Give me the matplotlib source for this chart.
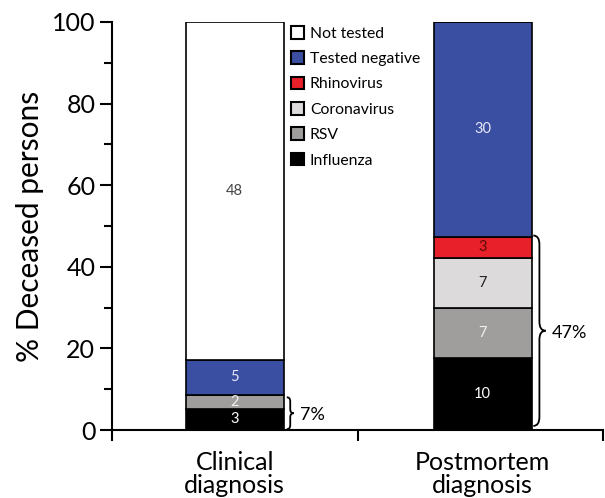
import numpy as np
import matplotlib
matplotlib.use("Agg")
import matplotlib.pyplot as plt
from matplotlib.patches import Patch, PathPatch
from matplotlib.path import Path

plt.rcParams['font.family'] = ['Lato', 'DejaVu Sans']

# Counts of deceased persons per category (stacked bottom to top)
groups = ["Clinical\ndiagnosis", "Postmortem\ndiagnosis"]
categories = ["Influenza", "RSV", "Coronavirus", "Rhinovirus", "Tested negative", "Not tested"]
clinical = [3, 2, 0, 0, 5, 48]
postmortem = [10, 7, 7, 3, 30, 0]
brace_labels = ["7%", "47%"]

colors = ["#000000", "#a09d9d", "#dcdada", "#e8202a", "#3a4fa2", "#ffffff"]
text_colors = ["white", "#f0f0f0", "#222222", "#5a0a0a", "#e8e8f8", "#444444"]

counts = np.array([clinical, postmortem], dtype=float)
pct = counts / counts.sum(axis=1, keepdims=True) * 100

fig = plt.figure(figsize=(6.05, 4.98), dpi=100)
ax = fig.add_axes([112 / 605, 68 / 498, 491 / 605, 408 / 498])

xpos = np.array([0.5, 1.51])
bottom = np.zeros(2)
for i, cat in enumerate(categories):
    h = pct[:, i]
    ax.bar(xpos, h, width=0.4, bottom=bottom, color=colors[i],
           edgecolor="black", linewidth=1.2, zorder=2)
    for j in range(2):
        if counts[j, i] > 0:
            ax.text(xpos[j], bottom[j] + h[j] / 2, f"{int(counts[j, i])}",
                    ha="center", va="center", fontsize=10.5, color=text_colors[i])
    bottom += h


def brace(ax, x, y0, y1, w, d):
    ym = (y0 + y1) / 2
    xm = x + w / 2
    verts = [(x, y1), (xm, y1), (xm, y1 - d),
             (xm, ym + d), (xm, ym), (x + w, ym),
             (xm, ym), (xm, ym - d),
             (xm, y0 + d), (xm, y0), (x, y0)]
    codes = [Path.MOVETO, Path.CURVE3, Path.CURVE3,
             Path.LINETO, Path.CURVE3, Path.CURVE3,
             Path.CURVE3, Path.CURVE3,
             Path.LINETO, Path.CURVE3, Path.CURVE3]
    ax.add_patch(PathPatch(Path(verts, codes), fill=False, lw=1.3,
                           edgecolor="black", clip_on=False))


# brace over the tested-positive part of each bar
pos1 = pct[0, :4].sum()
pos2 = pct[1, :4].sum()
brace(ax, 0.712, 0.2, pos1 - 0.6, 0.028, 1.0)
brace(ax, 1.716, 1.0, pos2 + 0.3, 0.05, 2.2)
ax.text(0.765, pos1 / 2 - 0.6, brace_labels[0], ha="left", va="center", fontsize=13)
ax.text(1.79, pos2 / 2, brace_labels[1], ha="left", va="center", fontsize=13)

ax.set_xlim(0, 2)
ax.set_ylim(0, 100)
ax.set_yticks(np.arange(0, 101, 20))
ax.set_yticks(np.arange(10, 100, 20), minor=True)
ax.set_xticks([0, 1, 2])
ax.set_xticklabels([])
ax.set_xticks(xpos, minor=True)
ax.set_xticklabels(groups, minor=True, fontsize=18, linespacing=1.0)
ax.tick_params(axis="x", which="minor", length=0, pad=15)
ax.tick_params(axis="x", which="major", length=8, width=1.5)
ax.tick_params(axis="y", which="major", length=9, width=1.5, labelsize=18, pad=3)
ax.tick_params(axis="y", which="minor", length=6, width=1.5)
ax.set_ylabel("% Deceased persons", fontsize=21.5, labelpad=6)

for s in ["top", "right"]:
    ax.spines[s].set_visible(False)
for s in ["left", "bottom"]:
    ax.spines[s].set_linewidth(1.5)

handles = [Patch(facecolor=colors[i], edgecolor="black", linewidth=1.5, label=categories[i])
           for i in range(len(categories) - 1, -1, -1)]
ax.legend(handles=handles, loc="upper left", bbox_to_anchor=(291 / 605, 1 - 26 / 498),
          bbox_transform=fig.transFigure, frameon=False, fontsize=11.3,
          handlelength=0.85, handleheight=0.85, handletextpad=0.35,
          labelspacing=0.68, borderpad=0, borderaxespad=0)

fig.savefig("out.png", dpi=100)
